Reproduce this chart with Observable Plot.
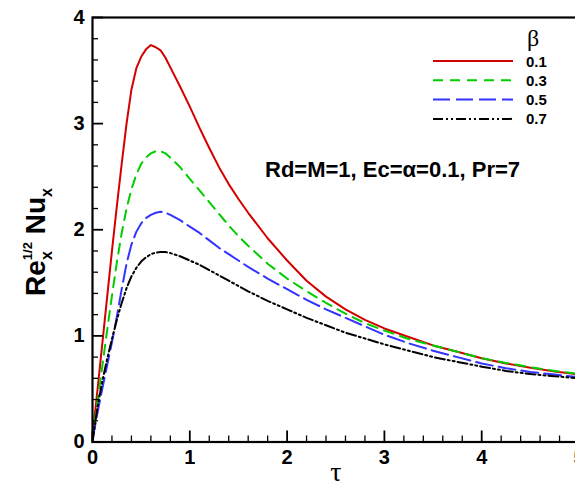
<!DOCTYPE html>
<html><head><meta charset="utf-8">
<script src="https://cdn.jsdelivr.net/npm/d3@7"></script>
<script src="https://cdn.jsdelivr.net/npm/@observablehq/plot@0.6"></script>
<style>
html,body{margin:0;padding:0;overflow:hidden;background:#fff;}
#chart svg{max-width:none !important;display:block;}
</style></head><body><div id="chart"></div>
<script>
const tau = [0,0.05,0.1,0.15,0.2,0.25,0.3,0.35,0.4,0.45,0.5,0.55,0.6,0.65,0.7,0.75,0.8,0.9,1.0,1.1,1.2,1.3,1.4,1.5,1.6,1.8,2.0,2.2,2.4,2.6,2.8,3.0,3.25,3.5,3.75,4.0,4.25,4.5,4.75,5.0];
const beta01 = [0.05,0.48,0.92,1.36,1.80,2.22,2.62,3.00,3.32,3.52,3.63,3.70,3.74,3.72,3.69,3.62,3.53,3.35,3.16,2.96,2.77,2.59,2.43,2.29,2.16,1.92,1.71,1.52,1.37,1.25,1.15,1.07,0.99,0.91,0.85,0.79,0.74,0.70,0.665,0.635];
const beta03 = [0.03,0.37,0.71,1.05,1.38,1.69,1.97,2.20,2.38,2.52,2.62,2.68,2.72,2.74,2.74,2.72,2.68,2.59,2.48,2.37,2.26,2.15,2.04,1.94,1.85,1.68,1.54,1.42,1.31,1.21,1.12,1.05,0.97,0.91,0.85,0.79,0.745,0.705,0.67,0.64];
const beta05 = [0.02,0.27,0.50,0.72,0.94,1.18,1.44,1.68,1.86,1.98,2.06,2.11,2.14,2.16,2.17,2.16,2.14,2.09,2.03,1.97,1.90,1.83,1.77,1.71,1.65,1.54,1.44,1.34,1.25,1.17,1.09,1.01,0.93,0.86,0.80,0.74,0.695,0.66,0.635,0.61];
const beta07 = [0.0,0.32,0.57,0.78,0.97,1.15,1.31,1.45,1.56,1.64,1.70,1.74,1.77,1.785,1.79,1.79,1.78,1.75,1.71,1.67,1.62,1.57,1.52,1.47,1.42,1.33,1.25,1.17,1.10,1.03,0.975,0.92,0.86,0.80,0.755,0.71,0.67,0.64,0.62,0.60];
const betaLabels = ["0.1","0.3","0.5","0.7"];
const seriesValues = [beta01, beta03, beta05, beta07];
const colors = ["#d40000","#00cc00","#3333ff","#000000"];
const dashes = [null,"10,7","17,6","10,3,2,3,2,3"];
const xTicks = [0,1,2,3,4,5];
const yTicks = [0,1,2,3,4];
const xMinor = d3.range(0,26).map(i=>i/5).filter(v=>!Number.isInteger(v));
const yMinor = d3.range(0,21).map(i=>i/5).filter(v=>!Number.isInteger(v));
const annotation = "Rd=M=1, Ec=\u03b1=0.1, Pr=7";

const rows = seriesValues.map((vals,k)=>tau.map((t,i)=>({tau:t, v:vals[i], beta:betaLabels[k]})));
const font = "Liberation Sans, Arial, sans-serif";

const plot = Plot.plot({
  width: 590, height: 486,
  marginLeft: 92, marginRight: 11.5, marginTop: 17, marginBottom: 44.5,
  style: {fontFamily: font, background: "white"},
  x: {domain:[0,5]},
  y: {domain:[0,4]},
  marks: [
    ...rows.map((r,k)=>Plot.line(r,{x:"tau", y:"v", stroke: colors[k], strokeWidth: 2, strokeDasharray: dashes[k]})),
    Plot.axisX({ticks: xTicks, tickSize: 0, tickPadding: 8, fontSize: 20, fontWeight: "bold", tickFormat: d=>String(d), label: null}),
    Plot.axisY({ticks: yTicks, tickSize: 0, tickPadding: 8, fontSize: 20, fontWeight: "bold", tickFormat: d=>String(d), label: null}),
    Plot.axisX({ticks: xTicks, tickSize: 11, dy: -11, stroke: "black", strokeWidth: 1.8, tickFormat: ()=>"", label: null}),
    Plot.axisX({ticks: xMinor, tickSize: 6, dy: -6, stroke: "black", strokeWidth: 1.3, tickFormat: ()=>"", label: null}),
    Plot.axisY({ticks: yTicks, tickSize: 11, dx: 11, stroke: "black", strokeWidth: 1.8, tickFormat: ()=>"", label: null}),
    Plot.axisY({ticks: yMinor, tickSize: 6, dx: 6, stroke: "black", strokeWidth: 1.3, tickFormat: ()=>"", label: null}),
    Plot.frame({stroke: "black", strokeWidth: 2.2})
  ]
});
document.getElementById("chart").appendChild(plot);

const svg = d3.select(plot);
// y label
const yl = svg.append("text").attr("transform","translate(45,242) rotate(-90)").attr("text-anchor","middle")
  .attr("font-family", font).attr("font-weight","bold").attr("font-size",28).attr("fill","black");
yl.append("tspan").text("Re");
yl.append("tspan").attr("font-size",16).attr("dy",7).text("x");
yl.append("tspan").attr("font-size",13).attr("dx",-9).attr("dy",-20).text("1/2");
yl.append("tspan").attr("dy",13).text(" Nu");
yl.append("tspan").attr("font-size",16).attr("dy",7).text("x");
// x label
svg.append("text").attr("x",336).attr("y",481).attr("text-anchor","middle")
  .attr("font-family","Liberation Serif, Times New Roman, serif").attr("font-size",28).text("\u03c4");
// annotation
svg.append("text").attr("x",265).attr("y",177).attr("text-anchor","start").attr("font-family",font).attr("font-weight","bold").attr("font-size",22).text(annotation);
// legend
svg.append("text").attr("x",533).attr("y",46).attr("text-anchor","middle")
  .attr("font-family","Liberation Serif, Times New Roman, serif").attr("font-size",24).text("\u03b2");
betaLabels.forEach((lab,k)=>{
  const y = 61 + k*19.3;
  svg.append("line").attr("x1",433).attr("x2",513).attr("y1",y).attr("y2",y)
    .attr("stroke",colors[k]).attr("stroke-width",2).attr("stroke-dasharray",dashes[k]);
  svg.append("text").attr("x",526).attr("y",y+5.5).attr("text-anchor","start").attr("font-family",font).attr("font-weight","bold").attr("font-size",15).text(lab);
});
</script></body></html>
